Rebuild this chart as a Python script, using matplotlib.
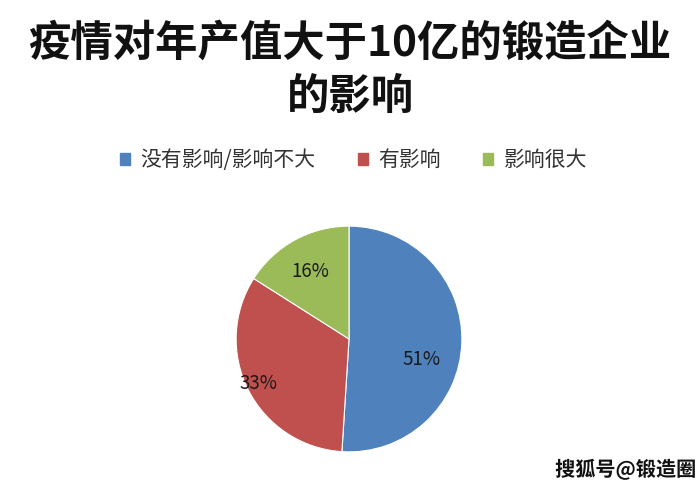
import matplotlib.pyplot as plt
import matplotlib.patches as mpatches
import matplotlib.patheffects as pe

plt.rcParams['font.family'] = ['Noto Sans CJK SC', 'DejaVu Sans']

title_lines = ["疫情对年产值大于10亿的锻造企业", "的影响"]
labels = ["没有影响/影响不大", "有影响", "影响很大"]
values = [51, 33, 16]
colors = ["#4F81BD", "#C0504D", "#9BBB59"]
# label spots inside the pie (fraction of radius)
label_pos = [(0.64, -0.18), (-0.80, -0.39), (-0.34, 0.60)]

fig = plt.figure(figsize=(7, 5), dpi=100)

fig.text(0.5, 0.912, title_lines[0], ha='center', va='center',
         fontsize=30.5, fontweight='bold', color='#111111')
fig.text(0.5, 0.806, title_lines[1], ha='center', va='center',
         fontsize=30.5, fontweight='bold', color='#111111')

# pie axes: centre ~ (349, 339) px, radius ~ 114 px
ax = fig.add_axes([(349 - 114) / 700, (500 - 339 - 114) / 500, 228 / 700, 228 / 500])
wedges, texts, autotexts = ax.pie(values, colors=colors, startangle=90, counterclock=False,
                                  autopct='%d%%', pctdistance=0.7,
                                  wedgeprops=dict(edgecolor='white', linewidth=0.8),
                                  textprops=dict(fontsize=13.5, color='#1a1a1a'))
for t, p in zip(autotexts, label_pos):
    t.set_position(p)
ax.set_xlim(-1.01, 1.01)
ax.set_ylim(-1.01, 1.01)
ax.set_aspect('equal')

handles = [mpatches.Patch(color=c, label=l) for c, l in zip(colors, labels)]
fig.legend(handles=handles, loc='center', bbox_to_anchor=(0.505, 0.68), ncol=3,
           frameon=False, fontsize=15, handlelength=0.5, handleheight=0.5,
           handletextpad=0.5, columnspacing=2.0, labelcolor='#333333')

fig.text(0.793, 0.06, "搜狐号@锻造圈", ha='left', va='center', fontsize=14.5,
         fontweight='bold', color='#111111',
         path_effects=[pe.withStroke(linewidth=3, foreground='white')])

fig.savefig("out.png", dpi=100, facecolor='white')
